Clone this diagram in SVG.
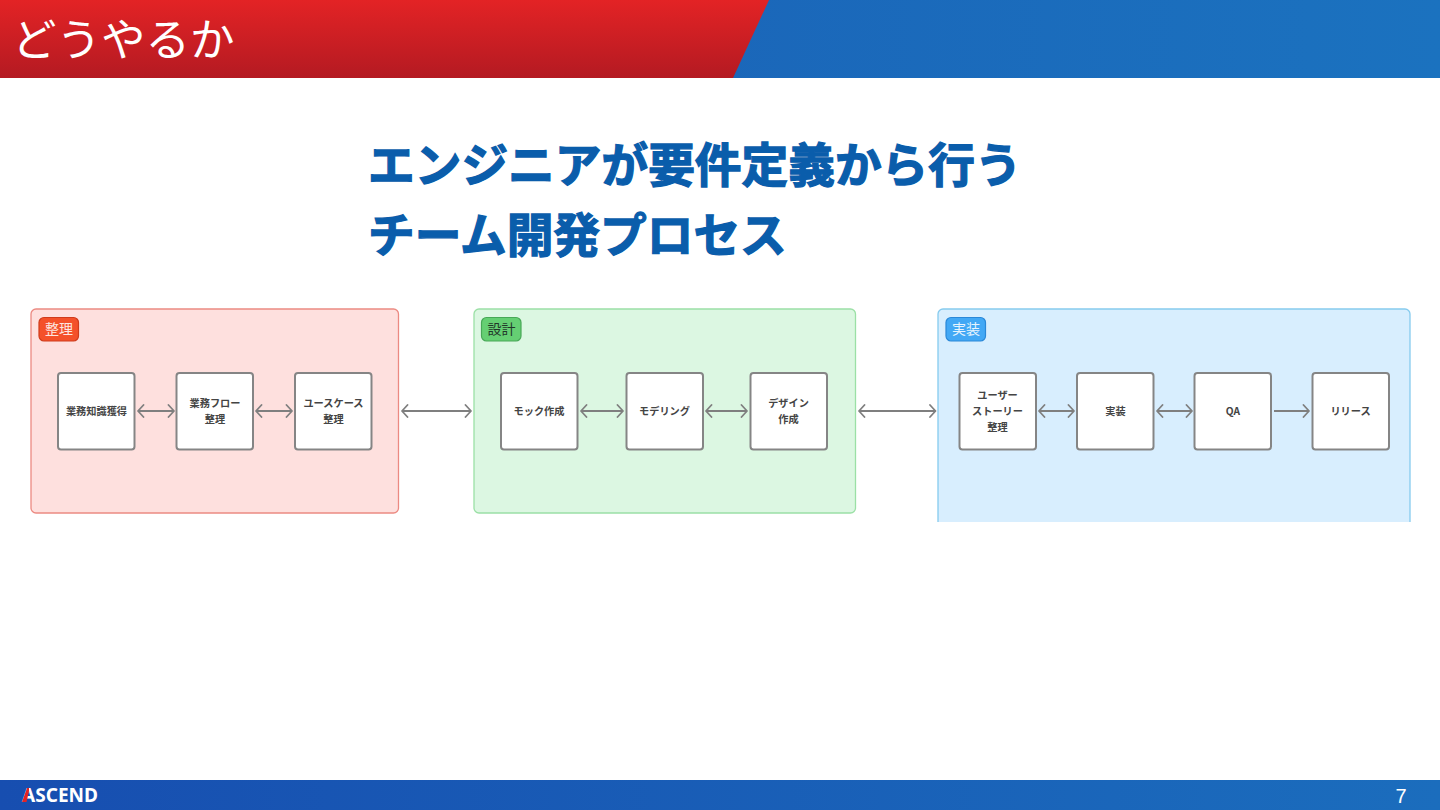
<svg xmlns="http://www.w3.org/2000/svg" width="1440" height="810" viewBox="0 0 1440 810">
<defs>
<linearGradient id="gBlue" x1="0" x2="1" y1="0" y2="0"><stop offset="0" stop-color="#1a5cb4"/><stop offset="1" stop-color="#1b72bf"/></linearGradient>
<linearGradient id="gRed" x1="0" x2="0" y1="0" y2="1"><stop offset="0" stop-color="#e32325"/><stop offset="1" stop-color="#b41a22"/></linearGradient>
<linearGradient id="gFoot" x1="0" x2="1" y1="0" y2="0"><stop offset="0" stop-color="#174eb0"/><stop offset="1" stop-color="#1b6dbd"/></linearGradient>
<marker id="head" viewBox="0 0 12 14" refX="10" refY="7" markerWidth="12" markerHeight="14" markerUnits="userSpaceOnUse" orient="auto-start-reverse"><path d="M4.500 1 L10 7 L4.500 13" fill="none" stroke="#7f7f7f" stroke-width="1.800" stroke-linecap="round" stroke-linejoin="round"/></marker>
<clipPath id="clip"><rect x="0" y="300" width="1440" height="222"/></clipPath>
</defs>
<style>
text{font-family:"Noto Sans CJK JP","Noto Sans",sans-serif}
.box{fill:#fff;stroke:#858585;stroke-width:2}
.lbl{font-size:10.200px;font-weight:700;fill:#444;text-anchor:middle}
.badge{font-size:14px;text-anchor:middle}
.h{font-size:46.700px;font-weight:700;fill:#0a5dab;stroke:#0a5dab;stroke-width:1.300}
.conn{stroke:#7f7f7f;stroke-width:1.800;fill:none;marker-end:url(#head)}
.both{marker-start:url(#head)}
</style>
<rect width="1440" height="810" fill="#fff"/>
<g id="header">
<rect width="1440" height="78" fill="url(#gBlue)"/>
<polygon points="0,0 769,0 733,78 0,78" fill="url(#gRed)"/>
<text x="12" y="56" font-size="44.500" font-weight="400" fill="#fff">どうやるか</text>
</g>
<g id="headline">
<text class="h" x="368" y="182">エンジニアが要件定義から行う</text>
<text class="h" x="368" y="252">チーム開発プロセス</text>
</g>
<g clip-path="url(#clip)">
<g id="panel-seiri">
<rect x="31" y="309" width="367.500" height="204" rx="5" fill="#fee0de" stroke="#ec8a82" stroke-width="1.300"/>
<rect x="39" y="317.500" width="39.500" height="23.500" rx="5" fill="#f4512a" stroke="#cf3c1c" stroke-width="1.200"/>
<text class="badge" x="59" y="334" fill="#fde6e0">整理</text>
</g>
<g id="panel-sekkei">
<rect x="474" y="309" width="381.500" height="204" rx="5" fill="#dcf7e2" stroke="#9be0a6" stroke-width="1.300"/>
<rect x="481.500" y="317.500" width="39.500" height="23.500" rx="5" fill="#65cf73" stroke="#48a857" stroke-width="1.200"/>
<text class="badge" x="501.500" y="334" fill="#23382a">設計</text>
</g>
<g id="panel-jisso">
<rect x="938" y="309" width="472" height="240" rx="5" fill="#d8eefe" stroke="#86cbee" stroke-width="1.300"/>
<rect x="946" y="317.500" width="39.500" height="23.500" rx="5" fill="#42a8f5" stroke="#2a88d8" stroke-width="1.200"/>
<text class="badge" x="966" y="334" fill="#e6f4fe">実装</text>
</g>
</g>
<g id="connectors">
<line class="conn both" x1="138" y1="411" x2="174" y2="411"/>
<line class="conn both" x1="256" y1="411" x2="292" y2="411"/>
<line class="conn both" x1="402" y1="411" x2="471" y2="411"/>
<line class="conn both" x1="581" y1="411" x2="623" y2="411"/>
<line class="conn both" x1="706" y1="411" x2="747" y2="411"/>
<line class="conn both" x1="859" y1="411" x2="935.500" y2="411"/>
<line class="conn both" x1="1039" y1="411" x2="1074" y2="411"/>
<line class="conn both" x1="1157" y1="411" x2="1192" y2="411"/>
<line class="conn" x1="1274" y1="411" x2="1309" y2="411"/>
</g>
<g id="n1"><rect class="box" x="58" y="373" width="76.500" height="76.500" rx="3"/><text class="lbl" x="96.500" y="415">業務知識獲得</text></g>
<g id="n2"><rect class="box" x="176.500" y="373" width="76.500" height="76.500" rx="3"/><text class="lbl" x="215" y="407">業務フロー</text><text class="lbl" x="215" y="423">整理</text></g>
<g id="n3"><rect class="box" x="295" y="373" width="76.500" height="76.500" rx="3"/><text class="lbl" x="333.500" y="407">ユースケース</text><text class="lbl" x="333.500" y="423">整理</text></g>
<g id="n4"><rect class="box" x="501" y="373" width="76.500" height="76.500" rx="3"/><text class="lbl" x="539" y="415">モック作成</text></g>
<g id="n5"><rect class="box" x="626.500" y="373" width="76.500" height="76.500" rx="3"/><text class="lbl" x="664.500" y="415">モデリング</text></g>
<g id="n6"><rect class="box" x="750.500" y="373" width="76.500" height="76.500" rx="3"/><text class="lbl" x="788.500" y="407">デザイン</text><text class="lbl" x="788.500" y="423">作成</text></g>
<g id="n7"><rect class="box" x="959.500" y="373" width="76.500" height="76.500" rx="3"/><text class="lbl" x="997.500" y="399">ユーザー</text><text class="lbl" x="997.500" y="415">ストーリー</text><text class="lbl" x="997.500" y="431">整理</text></g>
<g id="n8"><rect class="box" x="1077" y="373" width="76.500" height="76.500" rx="3"/><text class="lbl" x="1115.500" y="415">実装</text></g>
<g id="n9"><rect class="box" x="1194.500" y="373" width="76.500" height="76.500" rx="3"/><text class="lbl" x="1233" y="415">QA</text></g>
<g id="n10"><rect class="box" x="1312.500" y="373" width="76.500" height="76.500" rx="3"/><text class="lbl" x="1350.500" y="415">リリース</text></g>
<g id="footer">
<rect y="780" width="1440" height="30" fill="url(#gFoot)"/>
<text x="22" y="802" font-size="20" font-weight="700" fill="#fff" style="font-family:'Noto Sans',sans-serif" textLength="76" lengthAdjust="spacingAndGlyphs">ASCEND</text>
<polygon points="22,802 27,788 29,788 29,791 26.500,802" fill="#e32325"/>
<text x="1401" y="802.500" font-size="20" fill="#fff" text-anchor="middle" style="font-family:'Liberation Sans',sans-serif">7</text>
</g>
</svg>
